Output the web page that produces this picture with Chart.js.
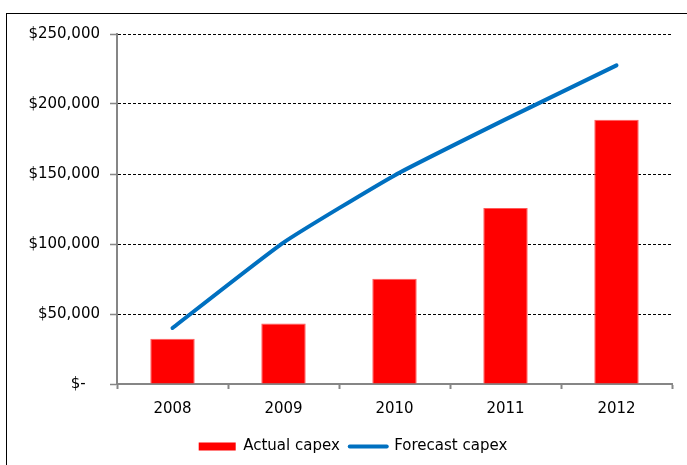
<!DOCTYPE html>
<html>
<head>
<meta charset="utf-8">
<script src="https://cdn.jsdelivr.net/npm/chart.js@4/dist/chart.umd.min.js"></script>
<style>
  html, body { margin: 0; padding: 0; background: #fff; overflow: hidden; }
  #wrap { position: relative; width: 687px; height: 465px; }
  #frame { position: absolute; left: 6px; top: 13px; width: 720px; height: 500px; border: 1px solid #000; }
  #capexChart { position: absolute; left: 0; top: 0; }
</style>
</head>
<body>
<div id="wrap">
  <div id="frame"></div>
  <canvas id="capexChart" width="687" height="465"></canvas>
</div>
<script>
var years = ["2008", "2009", "2010", "2011", "2012"];
var actualCapex = [32300, 43300, 75200, 125700, 188800];
var forecastCapex = [40000, 101000, 149000, 189000, 227600];
var yTicks = [0, 50000, 100000, 150000, 200000, 250000];

var barRed = "#ff0000";
var lineBlue = "#0070c0";
var axisGrey = "#868686";

Chart.defaults.font.family = "'DejaVu Sans', Verdana, sans-serif";
Chart.defaults.font.size = 15;
Chart.defaults.color = "#000";

function money(v) {
    if (v === 0) {
        return "$-   ";
    }
    return "$" + v.toLocaleString("en-US");
}

// nudge the legend right so it sits under the plot rather than the canvas
var legendShift = {
    id: "legendShift",
    afterLayout: function (chart) {
        if (chart.legend) {
            chart.legend.left += 17;
            chart.legend.right += 17;
        }
    }
};

var capexChart = new Chart(document.getElementById("capexChart"), {
    type: "bar",
    data: {
        labels: years,
        datasets: [{
            label: "Actual capex",
            data: actualCapex,
            backgroundColor: barRed,
            borderColor: "#ff5a5a",
            borderWidth: 1,
            categoryPercentage: 1,
            barPercentage: 0.4,
            order: 1
        }, {
            type: "line",
            label: "Forecast capex",
            data: forecastCapex,
            borderColor: lineBlue,
            backgroundColor: lineBlue,
            borderWidth: 4,
            borderCapStyle: "round",
            borderJoinStyle: "round",
            tension: 0.15,
            pointRadius: 0,
            pointHoverRadius: 0,
            fill: false,
            order: 0
        }]
    },
    options: {
        responsive: false,
        animation: false,
        events: [],
        layout: {
            padding: { top: 34, left: 0, right: 15, bottom: 1 }
        },
        plugins: {
            tooltip: { enabled: false },
            legend: {
                position: "bottom",
                labels: {
                    usePointStyle: true,
                    pointStyleWidth: 37,
                    boxHeight: 8,
                    padding: 10,
                    color: "#000",
                    sort: function (a, b) { return a.datasetIndex - b.datasetIndex; },
                    generateLabels: function (chart) {
                        var items = Chart.defaults.plugins.legend.labels.generateLabels(chart);
                        items.forEach(function (it) {
                            if (it.datasetIndex === 0) {
                                it.pointStyle = "rect";
                                it.lineWidth = 0;
                                it.fillStyle = barRed;
                            } else {
                                it.pointStyle = "line";
                                it.lineWidth = 4;
                                it.strokeStyle = lineBlue;
                                it.lineCap = "round";
                            }
                        });
                        return items;
                    }
                }
            }
        },
        scales: {
            x: {
                offset: true,
                grid: {
                    offset: true,
                    drawOnChartArea: false,
                    tickLength: 5,
                    tickColor: axisGrey,
                    tickWidth: 2
                },
                border: { color: axisGrey, width: 2 },
                ticks: { padding: 11, color: "#000" },
                afterFit: function (scale) { scale.height = 45; }
            },
            y: {
                min: 0,
                max: 250000,
                afterBuildTicks: function (scale) {
                    scale.ticks = yTicks.map(function (v) { return { value: v }; });
                },
                grid: {
                    color: function (ctx) {
                        return ctx.tick && ctx.tick.value === 0 ? "rgba(0,0,0,0)" : "#000";
                    },
                    lineWidth: 1,
                    tickColor: axisGrey,
                    tickBorderDash: [],
                    tickLength: 7,
                    tickWidth: 1.5
                },
                border: { color: axisGrey, width: 2, dash: [3, 2] },
                ticks: {
                    padding: 10,
                    color: "#000",
                    callback: function (v) { return money(v); }
                },
                afterFit: function (scale) { scale.width = 117; }
            }
        }
    },
    plugins: [legendShift]
});
</script>
</body>
</html>
